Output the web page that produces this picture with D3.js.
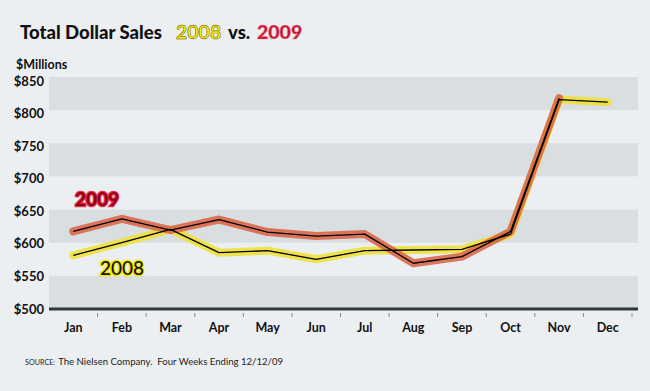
<!DOCTYPE html>
<html><head><meta charset="utf-8">
<script src="https://cdn.jsdelivr.net/npm/d3@7"></script>
<style>
body{margin:0;background:#eceff2;}
svg{display:block;font-family:Lato,"Open Sans",sans-serif;}
</style></head>
<body><svg id="c" width="650" height="391"></svg>
<script>
const months = ["Jan","Feb","Mar","Apr","May","Jun","Jul","Aug","Sep","Oct","Nov","Dec"];
const sales2008 = [581,600,620,585,588,575,588,589,590,613,816,812];
const sales2009 = [617,636,619,635,616,610,613,569,579,617,818,null];
const yTicks = [500,550,600,650,700,750,800,850];

const svg = d3.select("#c");
svg.append("rect").attr("width",650).attr("height",391).attr("fill","#eceff2");

const x = d3.scaleBand().domain(months).range([49,632]);
const y = d3.scaleLinear().domain([500,850]).range([309,77]);
const yLab = d3.scaleLinear().domain([500,850]).range([309,81]);
const plotRight = 638;

// bands
for (let i=0;i<yTicks.length-1;i+=2){
  const lo = yTicks[i], hi = yTicks[i+1];
  svg.append("rect").attr("x",49).attr("width",plotRight-49)
    .attr("y",y(hi)).attr("height",y(lo)-y(hi)).attr("fill","#d9dee1");
}
// title
svg.append("text").attr("x",20).attr("y",39).attr("font-size",18.5).attr("font-weight",900).attr("fill","#111").text("Total Dollar Sales");
svg.append("text").attr("x",176).attr("y",39).attr("font-size",19.5).attr("font-weight",700)
  .attr("fill","#f8ec00").attr("stroke","#4a4400").attr("stroke-width",0.45).text("2008");
svg.append("text").attr("x",228).attr("y",39).attr("font-size",18.5).attr("font-weight",900).attr("fill","#111").text("vs.");
svg.append("text").attr("x",257).attr("y",39).attr("font-size",19.5).attr("font-weight",900)
  .attr("fill","#c0102c").attr("stroke","#f07a8c").attr("stroke-width",0.6).text("2009");

svg.append("text").attr("x",16).attr("y",69).attr("font-size",12.5).attr("font-weight",700).attr("fill","#111").text("$Millions");

// y labels
svg.append("g").selectAll("text").data(yTicks).join("text")
  .attr("x",44).attr("y",d=>yLab(d)+4.5).attr("text-anchor","end")
  .attr("font-size",13).attr("font-weight",700).attr("fill","#111")
  .text(d=>"$"+d);

// x axis
const xAxis = d3.axisBottom(x).tickSize(0).tickPadding(14);
const gx = svg.append("g").attr("transform","translate(0,309)").call(xAxis);
gx.select(".domain").remove();
gx.selectAll("text").attr("font-size",12.5).attr("font-weight",700).attr("fill","#111").attr("font-family","Lato,sans-serif");
svg.append("line").attr("x1",49).attr("x2",plotRight).attr("y1",309).attr("y2",309).attr("stroke","#2e383b").attr("stroke-width",3);
svg.append("g").selectAll("line").data(months).join("line")
  .attr("x1",d=>x(d)+x.bandwidth()).attr("x2",d=>x(d)+x.bandwidth())
  .attr("y1",313).attr("y2",317).attr("stroke","#888").attr("stroke-width",1);

const line = d3.line().defined(d=>d.v!=null).x(d=>x(d.m)+x.bandwidth()/2).y(d=>y(d.v));
const d08 = months.map((m,i)=>({m,v:sales2008[i]}));
const d09 = months.map((m,i)=>({m,v:sales2009[i]}));

function halo(data,color){
  svg.append("path").datum(data).attr("d",line).attr("fill","none")
    .attr("stroke",color).attr("stroke-width",8).attr("stroke-linejoin","round").attr("stroke-linecap","round").attr("stroke-opacity",0.85);
}
halo(d08,"#f0e030");
halo(d09,"#d9603f");
[d08,d09].forEach(d=>{
  svg.append("path").datum(d).attr("d",line).attr("fill","none").attr("stroke","#000").attr("stroke-width",1.3).attr("stroke-linejoin","round");
});

// series labels
svg.append("text").attr("x",75).attr("y",206).attr("font-size",19).attr("font-weight",700)
  .attr("fill","#8e0016").attr("stroke","#e8304c").attr("stroke-width",2.5).attr("paint-order","stroke").text("2009");
svg.append("text").attr("x",100).attr("y",275).attr("font-size",19).attr("font-weight",500)
  .attr("fill","#111").attr("stroke","#f4e800").attr("stroke-width",3).attr("paint-order","stroke").text("2008");

// source
const s = svg.append("text").attr("x",25).attr("y",365).attr("font-size",9.6).attr("fill","#222");
s.append("tspan").attr("font-size",7.2).text("SOURCE:");
s.append("tspan").attr("dx",3).text("The Nielsen Company.\u00a0 Four Weeks Ending 12/12/09");
</script></body></html>
